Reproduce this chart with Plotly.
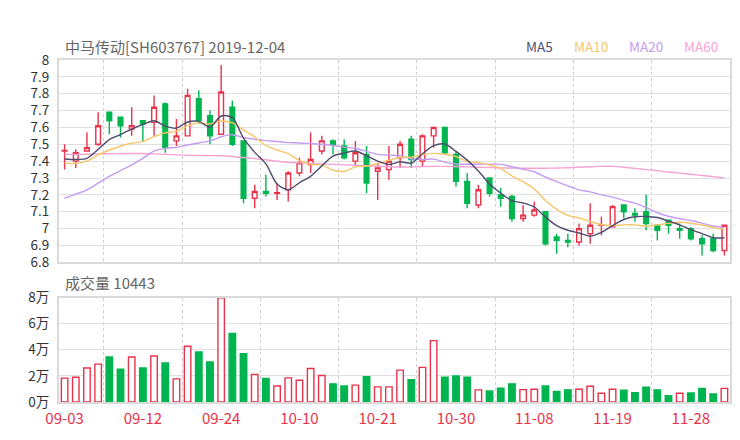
import plotly.graph_objects as go

# ---------------- data ----------------
dates = ["09-03", "09-04", "09-05", "09-06", "09-09", "09-10", "09-11", "09-12",
         "09-16", "09-17", "09-18", "09-19", "09-20", "09-23", "09-24", "09-25",
         "09-26", "09-27", "09-30", "10-08", "10-09", "10-10", "10-11", "10-14",
         "10-15", "10-16", "10-17", "10-18", "10-21", "10-22", "10-23", "10-24",
         "10-25", "10-28", "10-29", "10-30", "10-31", "11-01", "11-04", "11-05",
         "11-06", "11-07", "11-08", "11-11", "11-12", "11-13", "11-14", "11-15",
         "11-18", "11-19", "11-20", "11-21", "11-22", "11-25", "11-26", "11-27",
         "11-28", "12-02", "12-03", "12-04"]

opens = [7.46, 7.40, 7.46, 7.50, 7.69, 7.66, 7.59, 7.64, 7.63, 7.74,
         7.52, 7.55, 7.77, 7.67, 7.56, 7.72, 7.52, 7.18, 7.22, 7.21,
         7.23, 7.33, 7.38, 7.46, 7.52, 7.49, 7.40, 7.44, 7.34, 7.35,
         7.42, 7.53, 7.40, 7.55, 7.60, 7.44, 7.28, 7.14, 7.30, 7.20,
         7.19, 7.06, 7.08, 7.10, 6.95, 6.93, 6.92, 6.97, 7.02, 7.01,
         7.14, 7.09, 7.10, 7.02, 7.05, 7.00, 7.00, 6.94, 6.94, 6.87]
highs = [7.50, 7.47, 7.57, 7.69, 7.69, 7.66, 7.72, 7.64, 7.79, 7.75,
         7.65, 7.83, 7.82, 7.70, 7.97, 7.76, 7.52, 7.26, 7.32, 7.27,
         7.34, 7.42, 7.57, 7.55, 7.53, 7.53, 7.52, 7.49, 7.39, 7.49,
         7.52, 7.55, 7.56, 7.60, 7.60, 7.46, 7.33, 7.26, 7.30, 7.24,
         7.20, 7.14, 7.16, 7.10, 6.97, 6.97, 7.03, 7.15, 7.07, 7.14,
         7.14, 7.12, 7.20, 7.02, 7.05, 7.03, 7.01, 6.96, 6.97, 7.02]
lows = [7.35, 7.36, 7.46, 7.49, 7.56, 7.54, 7.55, 7.52, 7.55, 7.45,
        7.49, 7.55, 7.62, 7.50, 7.56, 7.49, 7.15, 7.12, 7.19, 7.17,
        7.16, 7.31, 7.33, 7.44, 7.44, 7.41, 7.37, 7.21, 7.17, 7.29,
        7.36, 7.36, 7.37, 7.48, 7.44, 7.25, 7.12, 7.12, 7.19, 7.13,
        7.04, 7.04, 7.07, 6.90, 6.85, 6.89, 6.90, 6.91, 6.96, 7.01,
        7.06, 7.04, 6.99, 6.93, 6.97, 6.94, 6.93, 6.84, 6.86, 6.84]
closes = [7.463, 7.45, 7.48, 7.61, 7.64, 7.61, 7.61, 7.62, 7.72, 7.48,
          7.55, 7.79, 7.64, 7.55, 7.81, 7.50, 7.18, 7.22, 7.21, 7.213,
          7.33, 7.39, 7.41, 7.52, 7.50, 7.42, 7.45, 7.27, 7.36, 7.40,
          7.50, 7.41, 7.55, 7.60, 7.45, 7.28, 7.15, 7.23, 7.21, 7.18,
          7.06, 7.08, 7.11, 6.91, 6.93, 6.92, 7.00, 7.02, 7.022, 7.13,
          7.10, 7.08, 7.03, 6.99, 7.02, 6.99, 6.94, 6.91, 6.87, 7.02]

ma5 = [7.413, 7.410, 7.417, 7.470, 7.528, 7.558, 7.590, 7.618, 7.640, 7.608,
       7.596, 7.632, 7.636, 7.602, 7.668, 7.658, 7.536, 7.452, 7.384, 7.264,
       7.230, 7.272, 7.310, 7.372, 7.430, 7.448, 7.460, 7.432, 7.400, 7.380,
       7.396, 7.388, 7.444, 7.492, 7.502, 7.458, 7.406, 7.342, 7.264, 7.210,
       7.166, 7.152, 7.128, 7.068, 7.018, 6.990, 6.974, 6.956, 6.978, 7.018,
       7.054, 7.070, 7.072, 7.066, 7.044, 7.022, 6.994, 6.970, 6.946, 6.946]
ma10 = [7.387, 7.387, 7.400, 7.437, 7.466, 7.490, 7.506, 7.516, 7.545, 7.568,
        7.577, 7.611, 7.627, 7.621, 7.638, 7.627, 7.584, 7.544, 7.493, 7.466,
        7.444, 7.404, 7.381, 7.378, 7.347, 7.339, 7.366, 7.371, 7.386, 7.405,
        7.422, 7.424, 7.438, 7.446, 7.441, 7.427, 7.397, 7.393, 7.378, 7.356,
        7.312, 7.279, 7.235, 7.166, 7.114, 7.078, 7.063, 7.042, 7.023, 7.018,
        7.022, 7.022, 7.014, 7.022, 7.031, 7.038, 7.032, 7.021, 7.006, 6.995]
ma20 = [7.180, 7.204, 7.230, 7.270, 7.310, 7.344, 7.378, 7.417, 7.460, 7.476,
        7.482, 7.496, 7.508, 7.520, 7.545, 7.557, 7.540, 7.530, 7.522, 7.517,
        7.510, 7.508, 7.504, 7.500, 7.493, 7.483, 7.475, 7.458, 7.440, 7.436,
        7.433, 7.414, 7.410, 7.412, 7.394, 7.383, 7.382, 7.382, 7.382, 7.381,
        7.367, 7.352, 7.337, 7.306, 7.278, 7.253, 7.230, 7.218, 7.200, 7.187,
        7.167, 7.151, 7.125, 7.094, 7.073, 7.058, 7.048, 7.032, 7.015, 7.007]
ma60 = [7.440, 7.440, 7.441, 7.443, 7.444, 7.445, 7.445, 7.445, 7.443, 7.440,
        7.437, 7.435, 7.434, 7.433, 7.432, 7.428, 7.422, 7.415, 7.408, 7.400,
        7.393, 7.390, 7.387, 7.384, 7.381, 7.378, 7.376, 7.373, 7.370, 7.367,
        7.365, 7.366, 7.368, 7.369, 7.369, 7.368, 7.366, 7.364, 7.362, 7.360,
        7.359, 7.358, 7.358, 7.358, 7.359, 7.361, 7.364, 7.367, 7.369, 7.369,
        7.364, 7.357, 7.350, 7.343, 7.336, 7.329, 7.322, 7.315, 7.308, 7.300]

volumes = [18300, 19000, 26000, 29000, 34400, 25200, 34400, 26000, 35200, 29800,
           17700, 42700, 38300, 30600, 79700, 52400, 37000, 21100, 18000, 12300,
           18500, 16700, 25700, 20300, 13900, 12300, 12900, 19300, 11600, 11600,
           24400, 17000, 26500, 47000, 19000, 20000, 19000, 9300, 8500, 10500,
           13900, 9500, 9800, 12300, 8000, 9300, 9800, 12100, 6700, 9800,
           9000, 7200, 11300, 9300, 4900, 6700, 6900, 10300, 6200, 10443]
# volume bar direction as seen in the picture: 1 = red (up), -1 = green (down)
vol_dir = [1, 1, 1, 1, -1, -1, 1, -1, 1, -1,
           1, 1, -1, -1, 1, -1, -1, 1, -1, 1,
           1, 1, 1, 1, -1, -1, 1, -1, 1, 1,
           1, -1, 1, 1, -1, -1, -1, 1, -1, -1,
           -1, 1, 1, -1, -1, -1, 1, 1, 1, 1,
           -1, -1, -1, -1, -1, 1, -1, -1, -1, 1]

price_ticks = [6.8, 6.9, 7.0, 7.1, 7.2, 7.3, 7.4, 7.5, 7.6, 7.7, 7.8, 7.9, 8.0]
price_tick_text = ["6.8", "6.9", "7", "7.1", "7.2", "7.3", "7.4", "7.5", "7.6",
                   "7.7", "7.8", "7.9", "8"]
vol_ticks = [0, 20000, 40000, 60000, 80000]
vol_tick_text = ["0万", "2万", "4万", "6万", "8万"]
label_step = 7
ma_names = ["MA5", "MA10", "MA20", "MA60"]

# ---------------- style ----------------
RED = "#e8334a"
GREEN = "#00b54f"
MA_COLORS = ["#4e4d6e", "#f7c66b", "#c59cf0", "#f6a3d2"]
FONT = "Noto Sans CJK SC, Noto Sans, sans-serif"
GRID = "#e0e0e0"
BORDER = "#dadada"
OFF = 8                      # page body margin
W, H = 740 - OFF, 440 - OFF


def px(x):
    return (x - OFF) / W


def py(y):
    return 1 - (y - OFF) / H


x_dom = [px(59), px(730)]
y1_dom = [py(262.3), py(60)]
y2_dom = [py(402), py(297.5)]

idx = list(range(len(dates)))

fig = go.Figure()
fig.add_trace(go.Candlestick(
    x=idx, open=opens, high=highs, low=lows, close=closes,
    increasing=dict(line=dict(color=RED, width=1.4), fillcolor="white"),
    decreasing=dict(line=dict(color=GREEN, width=1.4), fillcolor=GREEN),
    whiskerwidth=0, xaxis="x", yaxis="y", showlegend=False, hoverinfo="skip"))

for vals, col in zip([ma60, ma20, ma10, ma5], MA_COLORS[::-1]):
    fig.add_trace(go.Scatter(x=idx, y=vals, mode="lines",
                             line=dict(color=col, width=1.4, shape="spline", smoothing=0.8),
                             xaxis="x", yaxis="y", showlegend=False, hoverinfo="skip"))

fig.add_trace(go.Bar(
    x=idx, y=volumes,
    marker=dict(color=["white" if d > 0 else GREEN for d in vol_dir],
                line=dict(color=[RED if d > 0 else GREEN for d in vol_dir], width=1.4)),
    xaxis="x2", yaxis="y2", showlegend=False, hoverinfo="skip"))

minor = dict(tickmode="linear", tick0=label_step / 2, dtick=label_step, showgrid=True,
             griddash="3px,3px", gridcolor="#cfcfcf", gridwidth=1, ticks="")

common_x = dict(domain=x_dom, range=[-0.5, len(dates) - 0.5], showgrid=False,
                zeroline=False, showline=True, mirror=True, linecolor=BORDER,
                linewidth=2, ticks="", minor=minor, fixedrange=True, automargin=False)
common_y = dict(showgrid=True, gridcolor=GRID, gridwidth=1.2, zeroline=False,
                showline=True, mirror=True, linecolor=BORDER, linewidth=2,
                ticks="", ticklabelstandoff=5, automargin=False,
                tickfont=dict(size=13.5, color="#333333", family=FONT),
                fixedrange=True)

fig.update_layout(
    width=W, height=H, autosize=False,
    margin=dict(l=0, r=0, t=0, b=0, autoexpand=False),
    paper_bgcolor="white", plot_bgcolor="white",
    font=dict(family=FONT),
    bargap=0.42, boxgap=0.4,
    xaxis=dict(**common_x, anchor="y", showticklabels=False,
               rangeslider=dict(visible=False)),
    yaxis=dict(**common_y, domain=y1_dom, anchor="x", range=[6.8, 8.0],
               tickmode="array", tickvals=price_ticks, ticktext=price_tick_text),
    xaxis2=dict(**common_x, anchor="y2", tickmode="array",
                tickvals=idx[::label_step], ticktext=dates[::label_step],
                ticklabelstandoff=2,
                tickfont=dict(size=15, color=RED, family=FONT)),
    yaxis2=dict(**common_y, domain=y2_dom, anchor="x2", range=[0, 80000],
                tickmode="array", tickvals=vol_ticks, ticktext=vol_tick_text),
)

annotations = [
    dict(x=px(63), y=py(46), text="中马传动[SH603767] 2019-12-04",
         font=dict(size=15, color="#666666", family=FONT)),
    dict(x=px(63), y=py(282), text=f"成交量 {volumes[-1]}",
         font=dict(size=15, color="#666666", family=FONT)),
]
legend_x = [524, 572, 627, 682]
for name, col, lx in zip(ma_names, MA_COLORS, legend_x):
    annotations.append(dict(x=px(lx), y=py(46), text=name,
                            font=dict(size=13.5, color=col, family=FONT)))
for a in annotations:
    a.update(xref="paper", yref="paper", xanchor="left", yanchor="middle",
             showarrow=False)
fig.update_layout(annotations=annotations)

fig.write_html("out.html")
